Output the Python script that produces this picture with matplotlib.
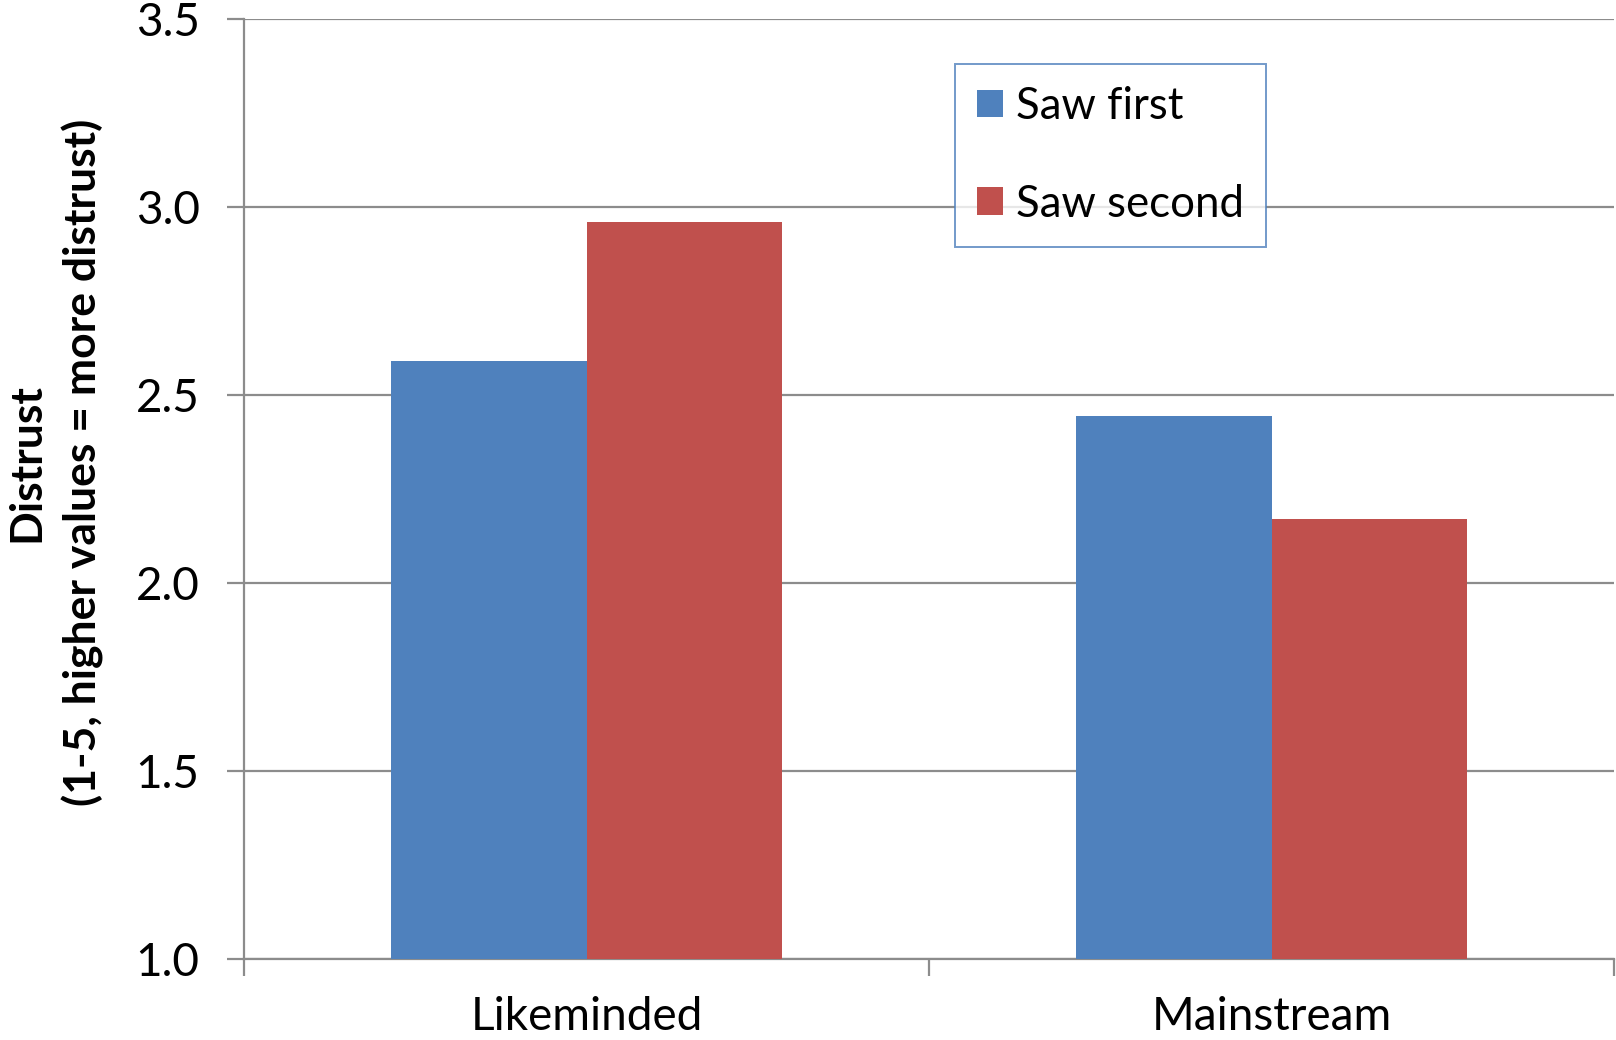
import matplotlib.pyplot as plt
import numpy as np

# Values
categories = ["Likeminded", "Mainstream"]
series_names = ["Saw first", "Saw second"]
saw_first = [2.59, 2.445]
saw_second = [2.96, 2.17]
y_ticks = [1.0, 1.5, 2.0, 2.5, 3.0, 3.5]

BLUE = "#4F81BD"
RED = "#C0504D"
GRID = "#8C8C8C"

plt.rcParams["font.family"] = ["Lato", "DejaVu Sans"]

fig = plt.figure(figsize=(16.16, 10.4), dpi=100)
ax = fig.add_axes([0.151, 0.0779, 0.8478, 0.9038])

x = np.arange(len(categories))
width = 1 / 3.5  # Excel style gap width 150%
ax.bar(x - width / 2, saw_first, width, bottom=0, color=BLUE, label=series_names[0], zorder=3)
ax.bar(x + width / 2, saw_second, width, bottom=0, color=RED, label=series_names[1], zorder=3)

ax.set_ylim(1.0, 3.5)
ax.set_xlim(-0.5, len(categories) - 0.5)
ax.set_yticks(y_ticks)
ax.set_yticklabels([f"{t:.1f}" for t in y_ticks], fontsize=33)
ax.yaxis.grid(True, color=GRID, linewidth=1.6, zorder=0)

# category boundary ticks on the x axis
ax.set_xticks(np.arange(-0.5, len(categories), 1.0))
ax.set_xticklabels([])
ax.set_xticks(x, minor=True)
ax.set_xticklabels(categories, minor=True, fontsize=33)
ax.tick_params(axis="x", which="minor", length=0, pad=27)
ax.tick_params(axis="x", which="major", length=12, width=1.6, color=GRID)
ax.tick_params(axis="y", length=12, width=1.6, color=GRID, pad=20)

for side in ["top", "right"]:
    ax.spines[side].set_visible(False)
for side in ["left", "bottom"]:
    ax.spines[side].set_color(GRID)
    ax.spines[side].set_linewidth(1.6)

fig.text(0.034, 0.555, "Distrust\n(1-5, higher values = more distrust)", fontsize=32,
         fontweight="bold", rotation=90, ha="center", va="center",
         multialignment="center", linespacing=1.45)

leg = ax.legend(loc="upper left", bbox_to_anchor=(955 / 1616, 1 - 64 / 1040),
                bbox_transform=fig.transFigure, fontsize=31.5, frameon=True,
                fancybox=False, handlelength=0.6, handleheight=0.6,
                handletextpad=0.3, labelspacing=1.3, borderpad=0.5,
                borderaxespad=0)
leg.get_frame().set_edgecolor(BLUE)
leg.get_frame().set_linewidth(1.4)

fig.savefig("out.png", dpi=100)
